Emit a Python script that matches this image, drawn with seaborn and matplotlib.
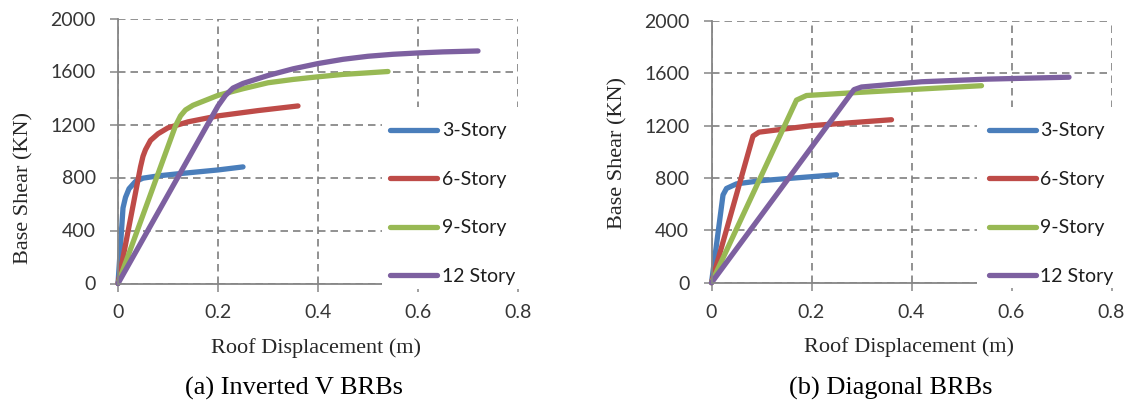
import matplotlib
matplotlib.use("Agg")
import matplotlib.pyplot as plt
from matplotlib.patches import Rectangle
import numpy as np
import pandas as pd
import seaborn as sns

# ---- pushover curves: roof displacement (m) vs base shear (KN) ----
series_names = ["3-Story", "6-Story", "9-Story", "12 Story"]
series_colors = ["#4A7EBB", "#BE4B48", "#98B954", "#7D60A0"]

# (a) Inverted V BRBs
inv_disp_3 = [0, 0.010, 0.015, 0.022, 0.035, 0.050, 0.080, 0.120, 0.200, 0.250]
inv_shear_3 = [0, 570, 650, 715, 770, 795, 812, 828, 857, 880]
inv_disp_6 = [0, 0.045, 0.050, 0.055, 0.065, 0.080, 0.100, 0.140, 0.200, 0.280, 0.360]
inv_shear_6 = [0, 880, 960, 1010, 1080, 1130, 1175, 1220, 1265, 1305, 1340]
inv_disp_9 = [0, 0.115, 0.125, 0.135, 0.150, 0.200, 0.250, 0.300, 0.350, 0.400,
              0.450, 0.500, 0.540]
inv_shear_9 = [0, 1190, 1265, 1310, 1345, 1420, 1470, 1515, 1540, 1560,
               1578, 1590, 1600]
inv_disp_12 = [0, 0.200, 0.215, 0.230, 0.250, 0.300, 0.350, 0.400, 0.450, 0.500,
               0.550, 0.600, 0.650, 0.720]
inv_shear_12 = [0, 1340, 1420, 1475, 1510, 1570, 1620, 1660, 1692, 1715,
                1730, 1740, 1748, 1755]

# (b) Diagonal BRBs
dia_disp_3 = [0, 0.023, 0.030, 0.050, 0.100, 0.250]
dia_shear_3 = [0, 670, 720, 755, 780, 825]
dia_disp_6 = [0, 0.083, 0.095, 0.200, 0.360]
dia_shear_6 = [0, 1120, 1150, 1200, 1245]
dia_disp_9 = [0, 0.170, 0.190, 0.300, 0.420, 0.540]
dia_shear_9 = [0, 1395, 1430, 1455, 1480, 1505]
dia_disp_12 = [0, 0.285, 0.300, 0.420, 0.550, 0.715]
dia_shear_12 = [0, 1475, 1495, 1535, 1555, 1570]

x_ticks = [0, 0.2, 0.4, 0.6, 0.8]
x_tick_labels = ["0", "0.2", "0.4", "0.6", "0.8"]
y_ticks = [0, 400, 800, 1200, 1600, 2000]
y_tick_labels = ["0", "400", "800", "1200", "1600", "2000"]

x_title = "Roof Displacement (m)"
y_title = "Base Shear (KN)"
caption_a = "(a) Inverted V BRBs"
caption_b = "(b) Diagonal BRBs"


def build_frame(disps, shears):
    parts = []
    for name, d, s in zip(series_names, disps, shears):
        parts.append(pd.DataFrame({"disp": d, "shear": s, "series": name}))
    return pd.concat(parts, ignore_index=True)


df_a = build_frame([inv_disp_3, inv_disp_6, inv_disp_9, inv_disp_12],
                   [inv_shear_3, inv_shear_6, inv_shear_9, inv_shear_12])
df_b = build_frame([dia_disp_3, dia_disp_6, dia_disp_9, dia_disp_12],
                   [dia_shear_3, dia_shear_6, dia_shear_9, dia_shear_12])

sns.set_theme(style="white")
plt.rcParams["font.family"] = ["Lato", "DejaVu Sans"]

W, H = 1131, 409
fig = plt.figure(figsize=(W / 100, H / 100), dpi=100)
fig.patch.set_facecolor("white")

serif = ["Liberation Serif", "DejaVu Serif"]
tick_color = "#363636"
axis_gray = "#868686"


def px_axes(x0, x1, y_top, y_bot):
    return fig.add_axes([x0 / W, 1 - y_bot / H, (x1 - x0) / W, (y_bot - y_top) / H])


def style_panel(ax, df, cover_left, cover_top, legend_x, legend_y,
                xlab_pos, ylab_pos):
    sns.lineplot(data=df, x="disp", y="shear", hue="series",
                 hue_order=series_names, palette=series_colors,
                 sort=False, estimator=None, linewidth=3.8,
                 solid_capstyle="round", solid_joinstyle="round", ax=ax)
    for ln in ax.get_lines():
        ln.set_clip_on(False)

    ax.set_xlim(0, 0.8)
    ax.set_ylim(0, 2000)
    ax.set_xticks(x_ticks)
    ax.set_xticklabels(x_tick_labels)
    ax.set_yticks(y_ticks)
    ax.set_yticklabels(y_tick_labels)
    ax.tick_params(axis="both", which="major", labelsize=14,
                   labelcolor=tick_color, color=axis_gray,
                   length=5.5, width=1.1, direction="out")
    ax.tick_params(axis="x", pad=9.5, bottom=True)
    ax.tick_params(axis="y", pad=10.5, left=True)

    ax.set_axisbelow(True)
    ax.grid(True, color="#7f7f7f", linewidth=1.2, linestyle=(0, (4.5, 3)))

    for side in ("top", "right"):
        ax.spines[side].set_visible(False)
    for side in ("left", "bottom"):
        ax.spines[side].set_color(axis_gray)
        ax.spines[side].set_linewidth(1.3)

    # white area behind the legend
    ax.add_patch(Rectangle((cover_left, -0.02), 0.6, cover_top + 0.02,
                           transform=ax.transAxes, facecolor="white",
                           edgecolor="none", zorder=2.6, clip_on=False))

    handles, labels = ax.get_legend_handles_labels()
    leg = ax.legend(handles, labels, loc="upper left",
                    bbox_to_anchor=(legend_x, legend_y), frameon=False,
                    borderpad=0, borderaxespad=0, fontsize=14,
                    handlelength=2.42, handletextpad=0.22,
                    labelspacing=1.62)
    leg.set_zorder(5)
    for h in leg.get_lines():
        h.set_linewidth(3.8)
        h.set_solid_capstyle("round")
    for t in leg.get_texts():
        t.set_color("#1e1e1e")

    ax.set_xlabel(x_title, fontsize=16, family=serif, color="#262626")
    ax.set_ylabel(y_title, fontsize=16, family=serif, color="#262626")
    ax.xaxis.set_label_coords(*xlab_pos)
    ax.xaxis.label.set_va("center")
    ax.yaxis.set_label_coords(*ylab_pos)
    ax.yaxis.label.set_va("center")


ax_a = px_axes(118, 518, 18.5, 283.5)
style_panel(ax_a, df_a, cover_left=0.659, cover_top=0.666,
            legend_x=0.681, legend_y=0.608,
            xlab_pos=(0.496, -0.243), ylab_pos=(-0.235, 0.360))

ax_b = px_axes(711.5, 1111.5, 20.9, 282.7)
style_panel(ax_b, df_b, cover_left=0.663, cover_top=0.671,
            legend_x=0.6925, legend_y=0.612,
            xlab_pos=(0.495, -0.246), ylab_pos=(-0.234, 0.495))

fig.text(294 / W, 1 - 388 / H, caption_a, ha="center", va="center",
         fontsize=19, family=serif, color="black")
fig.text(891 / W, 1 - 388 / H, caption_b, ha="center", va="center",
         fontsize=19, family=serif, color="black")

fig.savefig("out.png", dpi=100, facecolor="white")
